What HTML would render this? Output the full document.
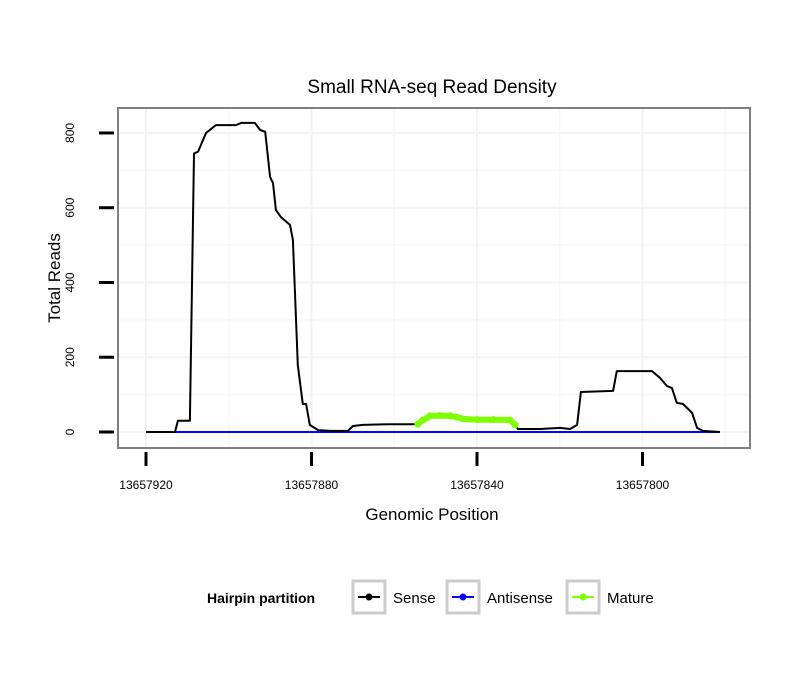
<!DOCTYPE html>
<html><head><meta charset="utf-8"><style>
body{margin:0;background:#fff;font-family:"Liberation Sans",sans-serif;}
</style></head><body>
<svg id="chart" width="810" height="690" xmlns="http://www.w3.org/2000/svg">
<rect width="810" height="690" fill="#fff"/>
<text x="432" y="93" font-size="19" text-anchor="middle">Small RNA-seq Read Density</text>
<g id="grid"></g>
<g id="series"></g>
<rect x="118" y="108" width="632" height="340" fill="none" stroke="#808080" stroke-width="2"/>
<g id="axes"></g>
<text x="432" y="520" font-size="17" text-anchor="middle">Genomic Position</text>
<text x="60" y="278" font-size="17" text-anchor="middle" transform="rotate(-90 60 278)">Total Reads</text>
<g>
<text x="207" y="603" font-size="14" font-weight="bold">Hairpin partition</text>
<g>
<rect x="353" y="581" width="32" height="32" fill="#fff" stroke="#ccc" stroke-width="3"/>
<line x1="358" y1="597" x2="380" y2="597" stroke="#000" stroke-width="2"/><circle cx="369" cy="597" r="3.5" fill="#000"/>
<text x="393" y="603" font-size="15">Sense</text></g>
<g>
<rect x="447" y="581" width="32" height="32" fill="#fff" stroke="#ccc" stroke-width="3"/>
<line x1="452" y1="597" x2="474" y2="597" stroke="#0000ff" stroke-width="2"/><circle cx="463" cy="597" r="3.5" fill="#0000ff"/>
<text x="487" y="603" font-size="15">Antisense</text></g>
<g>
<rect x="567" y="581" width="32" height="32" fill="#fff" stroke="#ccc" stroke-width="3"/>
<line x1="572" y1="597" x2="594" y2="597" stroke="#7fff00" stroke-width="2"/><circle cx="583" cy="597" r="3.5" fill="#7fff00"/>
<text x="607" y="603" font-size="15">Mature</text></g>
</g>
</svg>
<script>
const xTicks=[13657920,13657880,13657840,13657800];
const yTicks=[0,200,400,600,800];
const sensePos=[13657920,13657913,13657912.3,13657909.4,13657908.4,13657907.4,13657905.5,13657903.1,13657898.2,13657897,13657893.7,13657892.4,13657891.2,13657890,13657889.3,13657888.6,13657887.4,13657885.2,13657884.5,13657883.3,13657882.1,13657881.3,13657880.4,13657878.4,13657875.5,13657871.2,13657870,13657867.6,13657861,13657854.3,13657853.1,13657851.4,13657846.5,13657843.4,13657832,13657830.8,13657830.1,13657824.8,13657819.9,13657817.5,13657815.8,13657814.9,13657807.1,13657806.2,13657797.7,13657795.8,13657794.1,13657792.9,13657791.7,13657790.2,13657788,13657786.8,13657785.4,13657781.3];
const senseVal=[0,0,30,30,745,750,800,821,821,827,827,808,803,682,666,594,575,554,514,179,75,75,19,5,3,3,16,19,21,21,32,43,43,35,32,19,8,8,11,8,19,107,110,163,163,145,123,118,78,75,51,11,3,0];
const maturePos=[13657854.3,13657853.1,13657852,13657851.4,13657849,13657846.5,13657845,13657843.4,13657840,13657836,13657832,13657830.8];
const matureVal=[21,32,38,43,44,43,40,35,33,33,32,19];
const antiPos=[13657920,13657781.3];
const antiVal=[0,0];
const X=p=>146+(13657920-p)*4.1375;
const Y=v=>432-v*0.3738;
const NS='http://www.w3.org/2000/svg';
function mk(t,a,parent){const e=document.createElementNS(NS,t);for(const k in a)e.setAttribute(k,a[k]);parent.appendChild(e);return e;}
const grid=document.getElementById('grid'),axes=document.getElementById('axes'),series=document.getElementById('series');
for(let i=0;i<yTicks.length;i++){
 const y=Y(yTicks[i]);
 const g=mk('line',{x1:118,x2:750,y1:y,y2:y,stroke:'#f3f3f3','stroke-width':2},grid);
 
 
 if(i<yTicks.length-1){const ym=Y((yTicks[i]+yTicks[i+1])/2);
 const m=mk('line',{x1:118,x2:750,y1:ym,y2:ym,stroke:'#f8f8f8','stroke-width':1.5},grid);
 
 }
 const t=mk('line',{x1:99,x2:114,y1:y,y2:y,stroke:'#000','stroke-width':3},axes);
 
 
 const l=mk('text',{x:74,y:y,'font-size':12,'text-anchor':'middle',transform:`rotate(-90 74 ${y})`},axes);
 
 
 l.textContent=yTicks[i];
}
for(let i=0;i<xTicks.length;i++){
 const x=X(xTicks[i]);
 const g=mk('line',{x1:x,x2:x,y1:108,y2:448,stroke:'#f3f3f3','stroke-width':2},grid);
 
 
 const xm=X(xTicks[i]-20);
 if(xm<750){const m=mk('line',{x1:xm,x2:xm,y1:108,y2:448,stroke:'#f8f8f8','stroke-width':1.5},grid);
 
 }
 const t=mk('line',{x1:x,x2:x,y1:452,y2:466,stroke:'#000','stroke-width':3},axes);
 
 
 const l=mk('text',{x:x,y:489,'font-size':12,'text-anchor':'middle'},axes);
 
 
 l.textContent=xTicks[i];
}
const pts=(P,V)=>P.map((p,i)=>X(p).toFixed(1)+','+Y(V[i]).toFixed(1)).join(' ');
const a=mk('polyline',{points:pts(antiPos,antiVal),fill:'none',stroke:'#0000ff','stroke-width':2},series);


const s=mk('polyline',{points:pts(sensePos,senseVal),fill:'none',stroke:'#000','stroke-width':2,'stroke-linejoin':'round'},series);


const m=mk('polyline',{points:pts(maturePos,matureVal),fill:'none',stroke:'#7fff00','stroke-width':6,'stroke-linejoin':'round','stroke-linecap':'round'},series);


for(let i=0;i<maturePos.length;i++){
 const c=mk('circle',{cx:X(maturePos[i]),cy:Y(matureVal[i]),r:3.5,fill:'#7fff00'},series);
 
 
}
</script>
</body></html>
